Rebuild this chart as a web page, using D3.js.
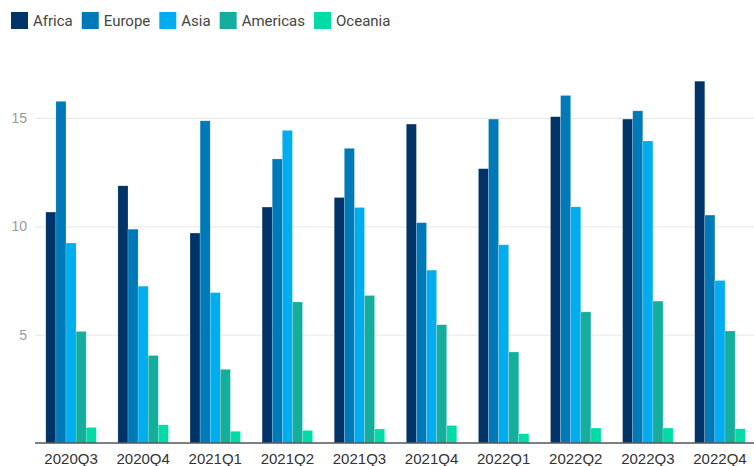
<!DOCTYPE html>
<html>
<head>
<meta charset="utf-8">
<script src="https://cdn.jsdelivr.net/npm/d3@7"></script>
<style>
  body { margin: 0; background: #fff; }
  svg { display: block; font-family: Roboto, "Noto Sans", sans-serif; }
</style>
</head>
<body>
<svg id="chart"></svg>
<script>
const quarters = ["2020Q3", "2020Q4", "2021Q1", "2021Q2", "2021Q3", "2021Q4", "2022Q1", "2022Q2", "2022Q3", "2022Q4"];
const regions = ["Africa", "Europe", "Asia", "Americas", "Oceania"];
const africa   = [10.66, 11.87, 9.69, 10.89, 11.33, 14.72, 12.66, 15.06, 14.95, 16.70];
const europe   = [15.77, 9.87, 14.87, 13.11, 13.60, 10.17, 14.95, 16.04, 15.33, 10.52];
const asia     = [9.23, 7.24, 6.94, 14.43, 10.87, 7.98, 9.15, 10.90, 13.94, 7.50];
const americas = [5.15, 4.04, 3.40, 6.51, 6.81, 5.46, 4.20, 6.05, 6.55, 5.17];
const oceania  = [0.72, 0.84, 0.54, 0.58, 0.65, 0.81, 0.43, 0.69, 0.69, 0.66];
const yTicks = [5, 10, 15];

const colors = ["#003468", "#0079b9", "#00adef", "#15ae9c", "#00dba8"];
const series = [africa, europe, asia, americas, oceania];

const width = 754, height = 466;
const margin = { top: 40, right: 0, bottom: 23, left: 35 };

const svg = d3.select("#chart").attr("width", width).attr("height", height);

const x = d3.scaleBand().domain(quarters)
  .range([margin.left, width + 2]).paddingInner(0.3).paddingOuter(0.15);
const xs = d3.scaleBand().domain(regions).range([0, x.bandwidth()]);
const y = d3.scaleLinear().domain([0, 18.6]).range([height - margin.bottom, margin.top]);

// grid + y labels
const yAxis = g => g
  .attr("transform", `translate(${margin.left},0)`)
  .call(d3.axisLeft(y).tickValues(yTicks).tickSize(-(width - margin.left)).tickPadding(8))
  .call(g => g.select(".domain").remove())
  .call(g => g.selectAll(".tick line").attr("stroke", "#e6e6e6"))
  .call(g => g.selectAll(".tick text").attr("fill", "#999").attr("font-size", 14));
svg.append("g").call(yAxis);

// bars
const rows = quarters.map((q, i) => ({ q, vals: regions.map((r, j) => ({ r, v: series[j][i], c: colors[j] })) }));
svg.append("g")
  .selectAll("g")
  .data(rows)
  .join("g")
  .attr("transform", d => `translate(${x(d.q)},0)`)
  .selectAll("rect")
  .data(d => d.vals)
  .join("rect")
  .attr("x", d => xs(d.r))
  .attr("y", d => y(d.v))
  .attr("width", xs.bandwidth())
  .attr("height", d => y(0) - y(d.v))
  .attr("fill", d => d.c)
  .attr("stroke", "#fff")
  .attr("stroke-opacity", 0.4)
  .attr("stroke-width", 0.5);

// x axis
const xAxis = g => g
  .attr("transform", `translate(0,${y(0)})`)
  .call(d3.axisBottom(x).tickSize(0).tickPadding(10))
  .call(g => g.select(".domain").attr("stroke", "#555").attr("stroke-width", 1.5)
    .attr("d", `M${margin.left},0H${width}`))
  .call(g => g.selectAll(".tick text").attr("fill", "#333").attr("font-size", 15));
svg.append("g").call(xAxis);

// legend
const legend = svg.append("g").attr("transform", "translate(11,12)");
let lx = 0;
regions.forEach((r, i) => {
  const item = legend.append("g").attr("transform", `translate(${lx},0)`);
  item.append("rect").attr("width", 17).attr("height", 17).attr("fill", colors[i]);
  const t = item.append("text").attr("x", 22).attr("y", 14).attr("font-size", 15)
    .attr("fill", "#444").text(r);
  lx += 22 + t.node().getComputedTextLength() + 9;
});
</script>
</body>
</html>
